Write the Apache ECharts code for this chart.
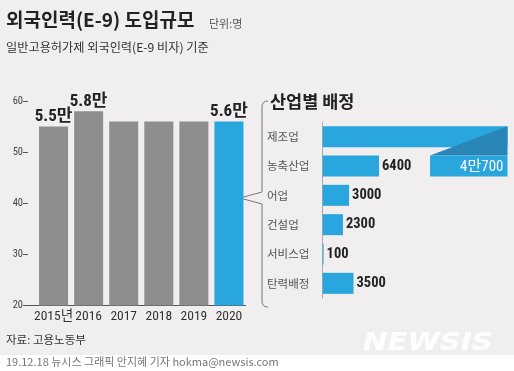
<!DOCTYPE html>
<html><head><meta charset="utf-8">
<script src="https://cdn.jsdelivr.net/npm/echarts@6/dist/echarts.min.js"></script>
<style>html,body{margin:0;padding:0;background:#f0eeee}#c{width:514px;height:371px}</style>
</head><body><div id="c"></div>
<script>
// ---- data ----
const years = ['2015년', '2016', '2017', '2018', '2019', '2020'];
const totals = [55, 58, 56, 56, 56, 56];           // 천 명
const totalLabels = ['5.5만', '5.8만', '', '', '', '5.6만'];
const yTickValues = [20, 30, 40, 50, 60];
const industries = ['제조업', '농축산업', '어업', '건설업', '서비스업', '탄력배정'];
const allocations = [40700, 6400, 3000, 2300, 100, 3500];
const allocationLabels = ['4만700', '6400', '3000', '2300', '100', '3500'];
const overflowIndex = 0;           // 제조업 bar wraps to next row
const axisMaxH = 21000;            // visible range of the horizontal axis
const wrapStart = 12200;           // where the wrapped piece begins

// ---- style ----
const BG = '#f0eeee', GRAY = '#8e8e8e', BLUE = '#29a6de', DARKBLUE = '#2a86b6';
const NARROW = "'Roboto Condensed','Noto Sans CJK KR',sans-serif";
const KR = "'Noto Sans CJK KR','Noto Sans',sans-serif";

const chart = echarts.init(document.getElementById('c'), null, {renderer: 'canvas'});
const barH = 21;

chart.setOption({
  backgroundColor: BG,
  animation: false,
  grid: [
    {left: 36, width: 210.5, top: 101, height: 204.5},
    {left: 322.7, width: 184.8, top: 122, height: 176}
  ],
  xAxis: [
    {gridIndex: 0, type: 'category', data: years,
     axisLine: {show: false}, axisTick: {show: false},
     axisLabel: {interval: 0, color: '#333', fontFamily: NARROW, fontSize: 13.5, margin: 4}},
    {gridIndex: 1, type: 'value', min: 0, max: axisMaxH, show: false}
  ],
  yAxis: [
    {gridIndex: 0, type: 'value', min: yTickValues[0], max: yTickValues[yTickValues.length - 1], interval: 10,
     offset: 8, axisLine: {show: false},
     axisTick: {show: true, length: 5, lineStyle: {color: '#555'}},
     splitLine: {show: false},
     axisLabel: {color: '#444', fontFamily: NARROW, fontSize: 10.5, margin: 5}},
    {gridIndex: 1, type: 'category', data: industries, inverse: true,
     axisLine: {show: true, lineStyle: {color: '#aaa', width: 1}},
     axisTick: {show: false},
     axisLabel: {interval: 0, color: '#555', fontFamily: KR, fontSize: 11.5, align: 'left', margin: 55.7}}
  ],
  series: [
    {type: 'bar', xAxisIndex: 0, yAxisIndex: 0, barWidth: 29,
     data: totals.map((v, i) => ({value: v, itemStyle: {color: i === totals.length - 1 ? BLUE : GRAY}})),
     label: {show: true, position: 'top', distance: 1, color: '#222', fontFamily: NARROW,
       fontWeight: 'bold', fontSize: 17,
       formatter: p => totalLabels[p.dataIndex]}},
    {type: 'bar', xAxisIndex: 1, yAxisIndex: 1, barWidth: barH, clip: true,
     data: allocations.map(v => ({value: v, itemStyle: {color: BLUE}})),
     label: {show: true, position: 'right', distance: 3, color: '#222', fontFamily: NARROW,
       fontWeight: 'bold', fontSize: 14.5,
       formatter: p => p.dataIndex === overflowIndex ? '' : allocationLabels[p.dataIndex]}},
    {type: 'custom', xAxisIndex: 1, yAxisIndex: 1, z: 5,
     data: [[overflowIndex]],
     renderItem: function (params, api) {
       const row = api.value(0);
       const y0 = api.coord([0, row])[1];
       const y1 = api.coord([0, row + 1])[1];
       const right = api.coord([axisMaxH, row])[0];
       const bx = api.coord([wrapStart, row])[0];
       return {type: 'group', children: [
         {type: 'polygon', shape: {points: [[right, y0 - barH / 2], [bx, y1 - barH / 2], [right, y1 - barH / 2]]},
          style: {fill: DARKBLUE}},
         {type: 'rect', shape: {x: bx, y: y1 - barH / 2, width: right - bx, height: barH},
          style: {fill: BLUE}},
         {type: 'text', style: {x: right - 4, y: y1 + 1, text: allocationLabels[row], align: 'right',
           verticalAlign: 'middle', fill: '#fff', font: '15px ' + NARROW}}
       ]};
     }}
  ],
  graphic: [
    {type: 'text', x: 6, y: 10, style: {text: '외국인력(E-9) 도입규모', font: 'bold 19px ' + KR, fill: '#222'}},
    {type: 'text', x: 209, y: 18, style: {text: '단위:명', font: '11px ' + KR, fill: '#555'}},
    {type: 'text', x: 6, y: 41, style: {text: '일반고용허가제 외국인력(E-9 비자) 기준', font: '12.2px ' + KR, fill: '#333'}},
    {type: 'line', shape: {x1: 25, y1: 305.5, x2: 246, y2: 305.5}, style: {stroke: '#555', lineWidth: 1}},
    {type: 'text', x: 270, y: 93, style: {text: '산업별 배정', font: 'bold 17.5px ' + KR, fill: '#222'}},
    {type: 'polyline', shape: {points: [[262, 107], [262, 192], [240, 198], [262, 204], [262, 301]]},
     style: {stroke: '#777', fill: null, lineWidth: 1}},
    {type: 'bezierCurve', shape: {x1: 262, y1: 107, cpx1: 262, cpy1: 101, x2: 268, y2: 101}, style: {stroke: '#777', fill: null, lineWidth: 1}},
    {type: 'bezierCurve', shape: {x1: 262, y1: 301, cpx1: 262, cpy1: 307, x2: 268, y2: 307}, style: {stroke: '#777', fill: null, lineWidth: 1}},
    {type: 'text', x: 6, y: 334, style: {text: '자료: 고용노동부', font: '11.5px ' + KR, fill: '#333'}},
    {type: 'text', x: 363, y: 331, scaleX: 1.17, style: {text: 'NEWSIS', font: "italic 900 25px 'DejaVu Sans','Liberation Sans',sans-serif",
      fill: '#ffffff', shadowColor: 'rgba(0,0,0,0.12)', shadowBlur: 3}},
    {type: 'rect', shape: {x: 0, y: 355, width: 514, height: 16}, style: {fill: '#ffffff'}},
    {type: 'text', x: 6, y: 356, style: {text: '19.12.18 뉴시스 그래픽 안지혜 기자 hokma@newsis.com', font: '11px ' + KR, fill: '#777'}}
  ]
});
</script></body></html>
